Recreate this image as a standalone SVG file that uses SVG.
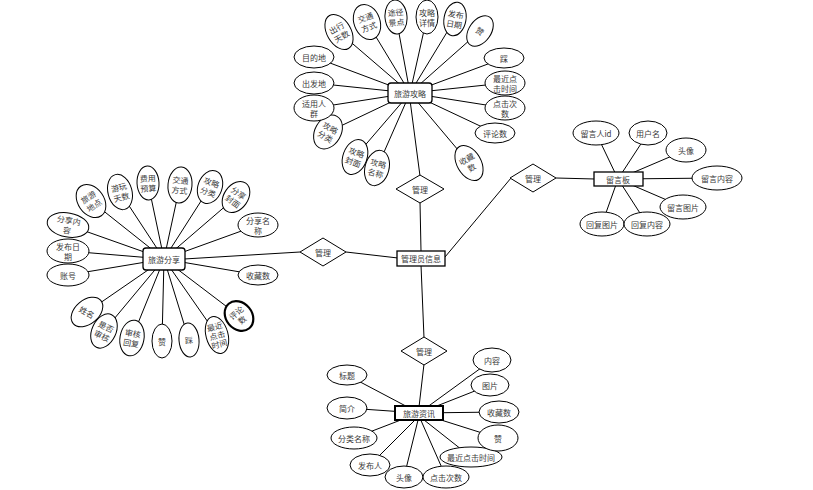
<svg xmlns="http://www.w3.org/2000/svg" width="813" height="490" viewBox="0 0 813 490">
<style>
.e{fill:#fff;stroke:#000;stroke-width:1}
.eb{fill:#fff;stroke:#000;stroke-width:2.2}
.r{fill:#fff;stroke:#000;stroke-width:1.3}
.d{fill:#fff;stroke:#000;stroke-width:1}
.t{font-family:"Noto Sans CJK SC","Noto Sans",sans-serif;font-size:8px;fill:#3a3a3a;text-anchor:middle;dominant-baseline:central}
#connectors line{stroke:#000;stroke-width:1}
</style>
<rect width="813" height="490" fill="#fff"/>
<g id="connectors">
<line x1="410" y1="93" x2="339" y2="32"/><line x1="410" y1="93" x2="367" y2="22"/><line x1="410" y1="93" x2="396" y2="17"/><line x1="410" y1="93" x2="427" y2="17"/><line x1="410" y1="93" x2="455" y2="19"/><line x1="410" y1="93" x2="480" y2="31"/><line x1="410" y1="93" x2="504" y2="58"/><line x1="410" y1="93" x2="505" y2="83"/><line x1="410" y1="93" x2="505" y2="108"/><line x1="410" y1="93" x2="495" y2="133"/><line x1="410" y1="93" x2="469" y2="163"/><line x1="410" y1="93" x2="377" y2="168"/><line x1="410" y1="93" x2="355" y2="157"/><line x1="410" y1="93" x2="328" y2="132"/><line x1="410" y1="93" x2="314" y2="108"/><line x1="410" y1="93" x2="314" y2="83"/><line x1="410" y1="93" x2="314" y2="57"/>
<line x1="410" y1="100" x2="420" y2="176"/>
<line x1="164" y1="259" x2="91" y2="201"/><line x1="164" y1="259" x2="120" y2="192"/><line x1="164" y1="259" x2="148" y2="183"/><line x1="164" y1="259" x2="180" y2="185"/><line x1="164" y1="259" x2="210" y2="187"/><line x1="164" y1="259" x2="236" y2="197"/><line x1="164" y1="259" x2="258" y2="225"/><line x1="164" y1="259" x2="258" y2="275"/><line x1="164" y1="259" x2="239" y2="316"/><line x1="164" y1="259" x2="217" y2="335"/><line x1="164" y1="259" x2="189" y2="340"/><line x1="164" y1="259" x2="162" y2="341"/><line x1="164" y1="259" x2="132" y2="338"/><line x1="164" y1="259" x2="104" y2="331"/><line x1="164" y1="259" x2="87" y2="312"/><line x1="164" y1="259" x2="68" y2="275"/><line x1="164" y1="259" x2="68" y2="251"/><line x1="164" y1="259" x2="68" y2="225"/>
<line x1="184" y1="259" x2="300" y2="252"/>
<line x1="346" y1="252" x2="398" y2="258"/>
<line x1="445" y1="257" x2="511" y2="178"/>
<line x1="556" y1="178" x2="595" y2="179"/>
<line x1="618" y1="179" x2="596" y2="133"/><line x1="618" y1="179" x2="648" y2="133"/><line x1="618" y1="179" x2="686" y2="150"/><line x1="618" y1="179" x2="717" y2="178"/><line x1="618" y1="179" x2="683" y2="207"/><line x1="618" y1="179" x2="602" y2="224"/><line x1="618" y1="179" x2="647" y2="224"/>
<line x1="421" y1="251" x2="420" y2="202"/>
<line x1="421" y1="265" x2="424" y2="338"/>
<line x1="424" y1="364" x2="419" y2="407"/>
<line x1="419" y1="413" x2="347" y2="375"/><line x1="419" y1="413" x2="347" y2="408"/><line x1="419" y1="413" x2="354" y2="438"/><line x1="419" y1="416" x2="370" y2="465"/><line x1="419" y1="416" x2="404" y2="477"/><line x1="419" y1="416" x2="446" y2="477"/><line x1="419" y1="416" x2="471" y2="457"/><line x1="419" y1="413" x2="498" y2="438"/><line x1="419" y1="413" x2="499" y2="412"/><line x1="419" y1="413" x2="490" y2="385"/><line x1="419" y1="413" x2="492" y2="360"/>
</g>

<g id="a-chuxing" transform="translate(339,32) rotate(-30)"><ellipse class="e" rx="12" ry="19"/><text class="t" y="-5">出行</text><text class="t" y="5">天数</text></g>
<g id="a-jiaotong1" transform="translate(367,22) rotate(-20)"><ellipse class="e" rx="13" ry="18"/><text class="t" y="-5">交通</text><text class="t" y="5">方式</text></g>
<g id="a-tujing" transform="translate(396,17) rotate(-5)"><ellipse class="e" rx="11" ry="17"/><text class="t" y="-5">途径</text><text class="t" y="5">景点</text></g>
<g id="a-xiangqing" transform="translate(427,17)"><ellipse class="e" rx="11" ry="17"/><text class="t" y="-5">攻略</text><text class="t" y="5">详情</text></g>
<g id="a-fabu1" transform="translate(455,19) rotate(10)"><ellipse class="e" rx="11" ry="17"/><text class="t" y="-5">发布</text><text class="t" y="5">日期</text></g>
<g id="a-zan1" transform="translate(480,31) rotate(35)"><ellipse class="e" rx="11" ry="17"/><text class="t">赞</text></g>
<g id="a-cai1" transform="translate(504,58)"><ellipse class="e" rx="20" ry="10"/><text class="t">踩</text></g>
<g id="a-zuijin1" transform="translate(505,83)"><ellipse class="e" rx="20" ry="12"/><text class="t" y="-5">最近点</text><text class="t" y="5">击时间</text></g>
<g id="a-dianji1" transform="translate(505,108)"><ellipse class="e" rx="20" ry="12"/><text class="t" y="-5">点击次</text><text class="t" y="5">数</text></g>
<g id="a-pinglun1" transform="translate(495,133)"><ellipse class="e" rx="20" ry="10"/><text class="t">评论数</text></g>
<g id="a-shoucang1" transform="translate(469,163) rotate(-30)"><ellipse class="e" rx="12" ry="19"/><text class="t" y="-5">收藏</text><text class="t" y="5">数</text></g>
<g id="a-mingcheng" transform="translate(377,168) rotate(15)"><ellipse class="e" rx="12" ry="18"/><text class="t" y="-5">攻略</text><text class="t" y="5">名称</text></g>
<g id="a-fengmian1" transform="translate(355,157) rotate(20)"><ellipse class="e" rx="12" ry="18"/><text class="t" y="-5">攻略</text><text class="t" y="5">封面</text></g>
<g id="a-fenlei1" transform="translate(328,132) rotate(30)"><ellipse class="e" rx="13" ry="18"/><text class="t" y="-5">攻略</text><text class="t" y="5">分类</text></g>
<g id="a-shiyong" transform="translate(314,108)"><ellipse class="e" rx="20" ry="13"/><text class="t" y="-5">适用人</text><text class="t" y="5">群</text></g>
<g id="a-chufa" transform="translate(314,83)"><ellipse class="e" rx="20" ry="11"/><text class="t">出发地</text></g>
<g id="a-mudi" transform="translate(314,57)"><ellipse class="e" rx="20" ry="11"/><text class="t">目的地</text></g>

<g id="b-didian" transform="translate(91,201) rotate(-35)"><ellipse class="e" rx="13" ry="18"/><text class="t" y="-5">旅游</text><text class="t" y="5">地点</text></g>
<g id="b-tianshu" transform="translate(120,192) rotate(-15)"><ellipse class="e" rx="12" ry="18"/><text class="t" y="-5">游玩</text><text class="t" y="5">天数</text></g>
<g id="b-feiyong" transform="translate(148,183) rotate(-3)"><ellipse class="e" rx="11" ry="17"/><text class="t" y="-5">费用</text><text class="t" y="5">预算</text></g>
<g id="b-jiaotong" transform="translate(180,185) rotate(5)"><ellipse class="e" rx="12" ry="18"/><text class="t" y="-5">交通</text><text class="t" y="5">方式</text></g>
<g id="b-fenlei" transform="translate(210,187) rotate(20)"><ellipse class="e" rx="12" ry="17"/><text class="t" y="-5">攻略</text><text class="t" y="5">分类</text></g>
<g id="b-fengmian" transform="translate(236,197) rotate(35)"><ellipse class="e" rx="12" ry="17"/><text class="t" y="-5">分享</text><text class="t" y="5">封面</text></g>
<g id="b-mingcheng" transform="translate(258,225)"><ellipse class="e" rx="20" ry="12"/><text class="t" y="-5">分享名</text><text class="t" y="5">称</text></g>
<g id="b-shoucang" transform="translate(258,275)"><ellipse class="e" rx="20" ry="10"/><text class="t">收藏数</text></g>
<g id="b-pinglun" transform="translate(239,316) rotate(-40)"><ellipse class="eb" rx="13" ry="16"/><text class="t" y="-4.5">评论</text><text class="t" y="4.5">数</text></g>
<g id="b-zuijin" transform="translate(217,335) rotate(-15)"><ellipse class="e" rx="11" ry="19"/><text class="t" y="-9">最近</text><text class="t" y="0">点击</text><text class="t" y="9">时间</text></g>
<g id="b-cai" transform="translate(189,340) rotate(-5)"><ellipse class="e" rx="10" ry="17"/><text class="t">踩</text></g>
<g id="b-zan" transform="translate(162,341)"><ellipse class="e" rx="10" ry="17"/><text class="t">赞</text></g>
<g id="b-huifu" transform="translate(132,338) rotate(10)"><ellipse class="e" rx="12" ry="18"/><text class="t" y="-5">审核</text><text class="t" y="5">回复</text></g>
<g id="b-shenhe" transform="translate(104,331) rotate(25)"><ellipse class="e" rx="12" ry="18"/><text class="t" y="-5">是否</text><text class="t" y="5">审核</text></g>
<g id="b-xingming" transform="translate(87,312) rotate(50)"><ellipse class="e" rx="12" ry="18"/><text class="t" transform="rotate(-20)">姓名</text></g>
<g id="b-zhanghao" transform="translate(68,275)"><ellipse class="e" rx="21" ry="11"/><text class="t">账号</text></g>
<g id="b-fabu" transform="translate(68,251)"><ellipse class="e" rx="21" ry="12"/><text class="t" y="-5">发布日</text><text class="t" y="5">期</text></g>
<g id="b-neirong" transform="translate(68,225) rotate(10)"><ellipse class="e" rx="21" ry="12"/><text class="t" y="-5">分享内</text><text class="t" y="5">容</text></g>

<g id="c-liuyanren" transform="translate(596,133)"><ellipse class="e" rx="23" ry="12"/><text class="t">留言人id</text></g>
<g id="c-yonghu" transform="translate(648,133)"><ellipse class="e" rx="19" ry="12"/><text class="t">用户名</text></g>
<g id="c-touxiang" transform="translate(686,150)"><ellipse class="e" rx="20" ry="12"/><text class="t">头像</text></g>
<g id="c-neirong" transform="translate(717,178)"><ellipse class="e" rx="25" ry="12"/><text class="t">留言内容</text></g>
<g id="c-tupian" transform="translate(683,207)"><ellipse class="e" rx="23" ry="12"/><text class="t">留言图片</text></g>
<g id="c-huifutp" transform="translate(602,224)"><ellipse class="e" rx="22" ry="12"/><text class="t">回复图片</text></g>
<g id="c-huifunr" transform="translate(647,224)"><ellipse class="e" rx="23" ry="12"/><text class="t">回复内容</text></g>

<g id="d-biaoti" transform="translate(347,375)"><ellipse class="e" rx="20" ry="10"/><text class="t">标题</text></g>
<g id="d-jianjie" transform="translate(347,408)"><ellipse class="e" rx="20" ry="11"/><text class="t">简介</text></g>
<g id="d-fenlei" transform="translate(354,438)"><ellipse class="e" rx="23" ry="11"/><text class="t">分类名称</text></g>
<g id="d-faburen" transform="translate(370,465)"><ellipse class="e" rx="20" ry="11"/><text class="t">发布人</text></g>
<g id="d-touxiang" transform="translate(404,477)"><ellipse class="e" rx="19" ry="11"/><text class="t">头像</text></g>
<g id="d-dianji" transform="translate(446,477)"><ellipse class="e" rx="23" ry="11"/><text class="t">点击次数</text></g>
<g id="d-zuijin" transform="translate(471,457)"><ellipse class="e" rx="31" ry="10"/><text class="t">最近点击时间</text></g>
<g id="d-zan" transform="translate(498,438)"><ellipse class="e" rx="20" ry="13"/><text class="t">赞</text></g>
<g id="d-shoucang" transform="translate(499,412)"><ellipse class="e" rx="20" ry="11"/><text class="t">收藏数</text></g>
<g id="d-tupian" transform="translate(490,385)"><ellipse class="e" rx="19" ry="11"/><text class="t">图片</text></g>
<g id="d-neirong" transform="translate(492,360)"><ellipse class="e" rx="19" ry="12"/><text class="t">内容</text></g>

<g id="ent-gonglue"><rect class="r" x="388" y="83" width="44" height="20" rx="3"/><text class="t" x="410" y="93">旅游攻略</text></g>
<g id="ent-fenxiang"><rect class="r" x="143" y="248" width="42" height="22" rx="3"/><text class="t" x="164" y="259">旅游分享</text></g>
<g id="ent-liuyan"><rect class="r" x="594" y="172" width="49" height="14"/><text class="t" x="618" y="179">留言板</text></g>
<g id="ent-zixun"><rect class="r" x="395" y="406" width="48" height="14" style="stroke-width:2"/><text class="t" x="419" y="413">旅游资讯</text></g>
<g id="ent-admin"><rect class="r" x="397" y="251" width="48" height="15"/><text class="t" x="421" y="258.5">管理员信息</text></g>

<g id="rel-top"><polygon class="d" points="420,175 444,189 420,203 396,189"/><text class="t" x="420" y="189">管理</text></g>
<g id="rel-left"><polygon class="d" points="323,238 346,252 323,266 300,252"/><text class="t" x="323" y="252">管理</text></g>
<g id="rel-right"><polygon class="d" points="533,164 556,178 533,192 510,178"/><text class="t" x="533" y="178">管理</text></g>
<g id="rel-bottom"><polygon class="d" points="424,337 447,351 424,365 401,351"/><text class="t" x="424" y="351">管理</text></g>
</svg>
